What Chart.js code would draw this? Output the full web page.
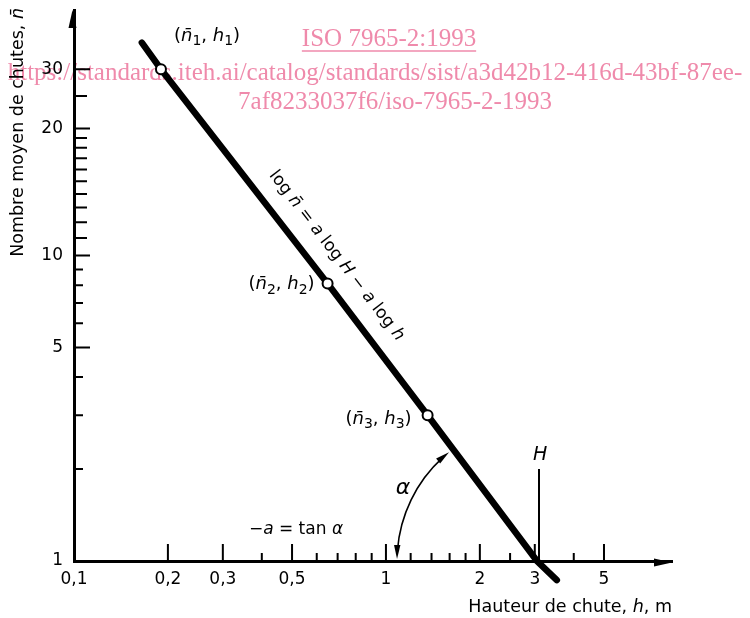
<!DOCTYPE html>
<html>
<head>
<meta charset="utf-8">
<script src="https://cdn.jsdelivr.net/npm/chart.js@4/dist/chart.umd.min.js"></script>
<style>
body { margin: 0; background: #fff; }
#wrap { width: 750px; height: 618px; }
</style>
</head>
<body>
<div id="wrap"><canvas id="chart" width="750" height="618"></canvas></div>
<script>
// values: h = fall height (m), n = mean number of drops
const lineH = [0.165, 0.19, 0.65, 1.36, 3.05, 3.53];
const lineN = [36, 30, 8.1, 3.0, 1, 0.866];
const pointH = [0.19, 0.65, 1.36];
const pointN = [30, 8.1, 3.0];
const pointSubs = ['1', '2', '3'];
const xTicks = [0.1, 0.2, 0.3, 0.5, 1, 2, 3, 5];
const xMinorTicks = [0.4, 0.6, 0.7, 0.8, 0.9, 1.2, 1.4, 1.6, 1.8, 2.5, 4];
const yTicks = [1, 5, 10, 20, 30];
const yMinorTicks = [2, 3, 4, 6, 7, 8, 9, 11, 12, 13, 14, 15, 16, 17, 18, 19, 25];
const H = 3.05;
const eqAt = {h: 0.6, n: 8.9};

// the hand drawn y axis is stretched above 10: decades along the axis at each labelled value
const yDrawnAt = [[1, 0], [10, 1], [20, 1.416], [30, 1.61]];

function interp(l, pts) {
    let i = 0;
    while (i < pts.length - 2 && l > pts[i + 1][0]) i++;
    const p = pts[i], q = pts[i + 1];
    return p[1] + (l - p[0]) * (q[1] - p[1]) / (q[0] - p[0]);
}
function warp(v) {
    return interp(Math.log10(v), yDrawnAt.map(p => [Math.log10(p[0]), p[1]]));
}
function unwarp(d) {
    return Math.pow(10, interp(d, yDrawnAt.map(p => [p[1], Math.log10(p[0])])));
}

class DrawnLogScale extends Chart.LogarithmicScale {
    configure() {
        super.configure();
        this._startValue = warp(this.min);
        this._valueRange = warp(this.max) - warp(this.min);
    }
    getPixelForValue(value) {
        if (value === undefined || value === 0) value = this.min;
        if (value === null || isNaN(value)) return NaN;
        return this.getPixelForDecimal((warp(value) - this._startValue) / this._valueRange);
    }
    getValueForPixel(pixel) {
        return unwarp(this._startValue + this.getDecimalForPixel(pixel) * this._valueRange);
    }
}
DrawnLogScale.id = 'drawnLog';
DrawnLogScale.defaults = Chart.LogarithmicScale.defaults;
Chart.register(DrawnLogScale);

const FONT = '"DejaVu Sans"';

function fontFor(p, size) {
    return (p.it ? 'italic ' : '') + (p.sub ? Math.round(size * 0.8) : size) + 'px ' + FONT;
}
function richWidth(ctx, parts, size) {
    let w = 0;
    parts.forEach(p => { ctx.font = fontFor(p, size); w += ctx.measureText(p.t).width; });
    return w;
}
function drawRich(ctx, parts, x, y, align, size) {
    const w = richWidth(ctx, parts, size);
    let cx = align === 'right' ? x - w : align === 'center' ? x - w / 2 : x;
    ctx.textAlign = 'left';
    ctx.textBaseline = 'middle';
    parts.forEach(p => {
        ctx.font = fontFor(p, size);
        ctx.fillText(p.t, cx, y + (p.sub ? size * 0.3 : 0));
        cx += ctx.measureText(p.t).width;
    });
}
function arrowHead(ctx, tx, ty, dx, dy, len, half) {
    const bx = tx - dx * len, by = ty - dy * len;
    ctx.beginPath();
    ctx.moveTo(tx, ty);
    ctx.lineTo(bx - dy * half, by + dx * half);
    ctx.lineTo(bx + dy * half, by - dx * half);
    ctx.closePath();
    ctx.fill();
}

const figurePlugin = {
    id: 'figure',
    beforeDraw(chart) {
        const ctx = chart.ctx;
        ctx.save();
        ctx.fillStyle = '#fff';
        ctx.fillRect(0, 0, chart.width, chart.height);
        // watermark of the source document
        ctx.fillStyle = '#ef8aab';
        ctx.strokeStyle = '#ef8aab';
        ctx.font = '25px "Liberation Serif"';
        ctx.textAlign = 'center';
        ctx.textBaseline = 'alphabetic';
        const t1 = 'ISO 7965-2:1993';
        ctx.fillText(t1, 389, 46);
        const w1 = ctx.measureText(t1).width;
        ctx.lineWidth = 1.3;
        ctx.beginPath();
        ctx.moveTo(389 - w1 / 2, 51);
        ctx.lineTo(389 + w1 / 2, 51);
        ctx.stroke();
        ctx.fillText('https://standards.iteh.ai/catalog/standards/sist/a3d42b12-416d-43bf-87ee-', 375, 80);
        ctx.fillText('7af8233037f6/iso-7965-2-1993', 395, 109);
        ctx.restore();
    },
    afterDraw(chart) {
        const ctx = chart.ctx;
        const xs = chart.scales.x, ys = chart.scales.y;
        const area = chart.chartArea;
        const x0 = area.left, y0 = area.bottom;
        ctx.save();
        ctx.strokeStyle = '#000';
        ctx.fillStyle = '#000';

        // tick marks drawn inwards
        ctx.lineWidth = 2;
        ctx.beginPath();
        xTicks.concat(xMinorTicks).forEach(v => {
            if (v === xs.min) return;
            const px = xs.getPixelForValue(v);
            const len = xTicks.includes(v) ? 17 : 8;
            ctx.moveTo(px, y0);
            ctx.lineTo(px, y0 - len);
        });
        yTicks.concat(yMinorTicks).forEach(v => {
            if (v === ys.min) return;
            const py = ys.getPixelForValue(v);
            const len = yTicks.includes(v) ? 16 : (v > 10 ? 13 : 9);
            ctx.moveTo(x0, py);
            ctx.lineTo(x0 + len, py);
        });
        ctx.stroke();

        // axis arrows
        arrowHead(ctx, x0 - 1.5, area.top, 0, -1, 18, 4);
        arrowHead(ctx, area.right, y0 + 1.5, 1, 0, 18, 4);

        // axis titles
        ctx.save();
        ctx.translate(18, area.top - 2);
        ctx.rotate(-Math.PI / 2);
        drawRich(ctx, [{t: 'Nombre moyen de chutes, '}, {t: 'n\u0304', it: 1}], 0, 0, 'right', 17.5);
        ctx.restore();
        drawRich(ctx, [{t: 'Hauteur de chute, '}, {t: 'h', it: 1}, {t: ', m'}], area.right, 607, 'right', 17.5);

        // point labels
        const labelOffsets = [[13, -33, 'left'], [-13, 1, 'right'], [-16, 4, 'right']];
        pointH.forEach((h, i) => {
            const px = xs.getPixelForValue(h), py = ys.getPixelForValue(pointN[i]);
            const o = labelOffsets[i];
            drawRich(ctx, [{t: '('}, {t: 'n\u0304', it: 1}, {t: pointSubs[i], sub: 1}, {t: ', '},
                {t: 'h', it: 1}, {t: pointSubs[i], sub: 1}, {t: ')'}], px + o[0], py + o[1], o[2], 18);
        });

        // equation along the line
        const lx1 = xs.getPixelForValue(lineH[0]), ly1 = ys.getPixelForValue(lineN[0]);
        const lx2 = xs.getPixelForValue(lineH[lineH.length - 1]), ly2 = ys.getPixelForValue(lineN[lineN.length - 1]);
        const ang = Math.atan2(ly2 - ly1, lx2 - lx1);
        const ex = xs.getPixelForValue(eqAt.h), ey = ys.getPixelForValue(eqAt.n);
        ctx.save();
        ctx.translate(ex + Math.sin(ang) * 25, ey - Math.cos(ang) * 25);
        ctx.rotate(ang);
        drawRich(ctx, [{t: 'log '}, {t: 'n\u0304', it: 1}, {t: ' = '}, {t: 'a', it: 1}, {t: ' log '},
            {t: 'H', it: 1}, {t: ' \u2212 '}, {t: 'a', it: 1}, {t: ' log '}, {t: 'h', it: 1}], 0, 0, 'center', 17);
        ctx.restore();

        // H marker
        const hx = xs.getPixelForValue(H);
        ctx.lineWidth = 2;
        ctx.beginPath();
        ctx.moveTo(hx + 2, y0);
        ctx.lineTo(hx + 2, y0 - 92);
        ctx.stroke();
        drawRich(ctx, [{t: 'H', it: 1}], hx + 3, y0 - 106, 'center', 19);

        // angle alpha
        const r = 140;
        const a0 = Math.PI + 2 / r;
        const a1 = Math.atan2(ly1 - y0, lx1 - hx) + 2 * Math.PI - 4 / r;
        ctx.lineWidth = 1.6;
        ctx.beginPath();
        ctx.arc(hx, y0, r, a0 + 0.06, a1 - 0.06);
        ctx.stroke();
        arrowHead(ctx, hx + r * Math.cos(a0), y0 + r * Math.sin(a0), Math.sin(a0), -Math.cos(a0), 14, 3.2);
        arrowHead(ctx, hx + r * Math.cos(a1), y0 + r * Math.sin(a1), -Math.sin(a1), Math.cos(a1), 14, 3.2);
        drawRich(ctx, [{t: '\u03b1', it: 1}], 403, 488, 'center', 22);
        drawRich(ctx, [{t: '\u2212'}, {t: 'a', it: 1}, {t: ' = tan '}, {t: '\u03b1', it: 1}], 296, 530, 'center', 17);

        ctx.restore();
    }
};

new Chart(document.getElementById('chart'), {
    type: 'line',
    data: {
        datasets: [{
            data: lineH.map((h, i) => ({x: h, y: lineN[i]})),
            order: 1,
            borderColor: '#000',
            borderWidth: 6.5,
            borderCapStyle: 'round',
            pointRadius: 0,
            clip: false
        }, {
            data: pointH.map((h, i) => ({x: h, y: pointN[i]})),
            order: 0,
            showLine: false,
            pointRadius: 5,
            pointBorderWidth: 2,
            pointBorderColor: '#000',
            pointBackgroundColor: '#fff',
            clip: false
        }]
    },
    options: {
        responsive: false,
        animation: false,
        layout: {
            padding: {top: 10, right: 78, bottom: 0, left: 0}
        },
        scales: {
            x: {
                type: 'logarithmic',
                min: 0.1,
                max: 8.26,
                grid: {display: false},
                border: {display: true, color: '#000', width: 3},
                afterFit: function(scale) {
                    scale.height = 57;
                    scale.paddingLeft = 0;
                    scale.paddingRight = 0;
                },
                afterBuildTicks: function(scale) { scale.ticks = xTicks.map(v => ({value: v})); },
                ticks: {
                    color: '#000',
                    padding: 0,
                    maxRotation: 0,
                    font: {family: 'DejaVu Sans', size: 17},
                    callback: function(value) { return String(value).replace('.', ','); }
                }
            },
            y: {
                type: 'drawnLog',
                min: 1,
                max: 45,
                grid: {display: false},
                border: {display: true, color: '#000', width: 3},
                afterFit: function(scale) {
                    scale.width = 74;
                    scale.paddingTop = 0;
                    scale.paddingBottom = 0;
                },
                afterBuildTicks: function(scale) { scale.ticks = yTicks.map(v => ({value: v})); },
                ticks: {
                    color: '#000',
                    padding: 3,
                    font: {family: 'DejaVu Sans', size: 17},
                    callback: function(value) { return String(value); }
                }
            }
        },
        plugins: {
            legend: {display: false},
            tooltip: {enabled: false}
        }
    },
    plugins: [figurePlugin]
});
</script>
</body>
</html>
